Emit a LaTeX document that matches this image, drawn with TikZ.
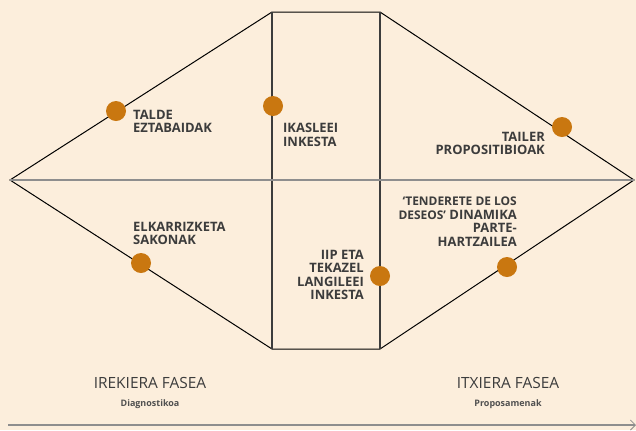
\documentclass[tikz,border=0pt]{standalone}
\usepackage{fontspec}
\setmainfont{Open Sans}
\usetikzlibrary{arrows.meta}
\definecolor{paper}{HTML}{FCEEDC}
\definecolor{ochre}{HTML}{C97710}
\definecolor{ink}{HTML}{3C3C3C}
\definecolor{rule}{HTML}{8E8E8E}
\tikzset{
  dot/.style={circle,fill=ochre,inner sep=0pt,minimum size=20bp},
  lbl/.style={font=\bfseries\fontsize{13}{13.5}\selectfont,text=ink,inner sep=0pt},
  phase/.style={font=\fontsize{15.5}{17}\selectfont,text=ink,inner sep=0pt},
  sub/.style={font=\bfseries\fontsize{9}{10}\selectfont,text=ink!90,inner sep=0pt}
}
\begin{document}
\begin{tikzpicture}[x=1bp,y=-1bp]
     \useasboundingbox[fill=paper] (0,0) rectangle (636,430);
     % the double diamond
     \draw [line width=1bp] (10,180)--(272,12)--(380,12)--(634,180)--(380,349)--(272,349)--cycle;
     \draw [line width=1.2bp,ink] (272,12)--(272,349);
     \draw [line width=1.2bp,ink] (380,12)--(380,349);
     \draw [line width=2bp,rule] (10,180)--(634,180);
     % time axis
     \draw [line width=2bp,rule,-{Straight Barb[length=5bp,width=10bp,line width=0.8bp]}] (8,425)--(636,425);
     % methods
     \node [dot] (d1) at (116,111) {};
     \node [dot] (d2) at (273,106) {};
     \node [dot] (d3) at (562,127) {};
     \node [dot] (d4) at (141,263) {};
     \node [dot] (d5) at (380,276) {};
     \node [dot] (d6) at (507,267) {};
     \node [lbl,align=left,anchor=north west] (t1) at (133,110) {TALDE\\EZTABAIDAK};
     \node [lbl,align=left,anchor=north west] (t2) at (283,123) {IKASLEEI\\INKESTA};
     \node [lbl,align=right,anchor=north east] (t3) at (545,132) {TAILER\\PROPOSITIBIOAK};
     \node [lbl,align=left,anchor=north west] (t4) at (133,222) {ELKARRIZKETA\\SAKONAK};
     \node [lbl,align=right,anchor=north east] (t5) at (364,250) {IIP ETA\\TEKAZEL\\LANGILEEI\\INKESTA};
     \node [lbl,align=right,anchor=north east] (t6) at (517,197)
       {{\fontsize{12}{13.5}\selectfont ‘TENDERETE DE LOS}\\{\fontsize{12}{13.5}\selectfont DESEOS’} DINAMIKA\\PARTE-\\HARTZAILEA};
     % phases
     \node [phase] (p1) at (150,383) {IREKIERA FASEA};
     \node [sub] (s1) at (150,404) {Diagnostikoa};
     \node [phase] (p2) at (508,383) {ITXIERA FASEA};
     \node [sub] (s2) at (508,404) {Proposamenak};
\end{tikzpicture}
\end{document}
